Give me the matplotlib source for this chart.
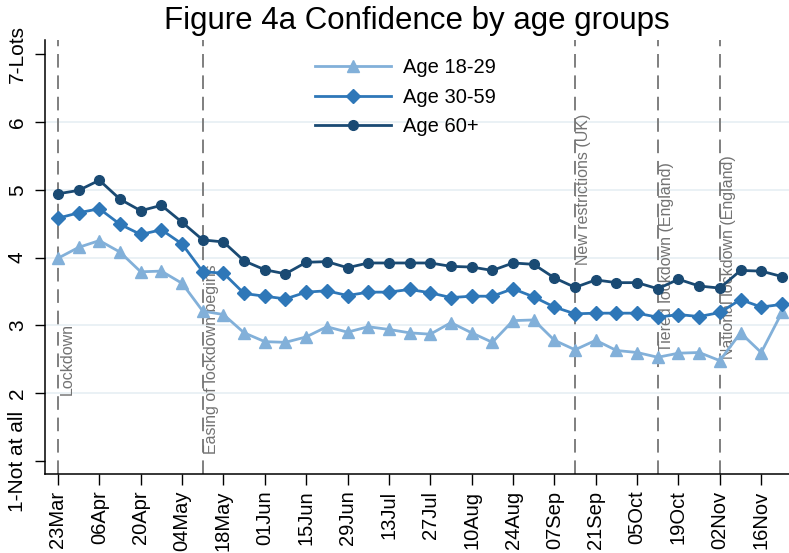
import matplotlib
matplotlib.use('Agg')
import matplotlib.pyplot as plt
import matplotlib.dates as mdates
import pandas as pd

plt.rcParams['font.family'] = ['Liberation Sans', 'DejaVu Sans']

# weekly survey waves
semanas = pd.date_range('2020-03-23', periods=36, freq='7D')

idade_18_29 = [3.99, 4.15, 4.25, 4.08, 3.79, 3.80, 3.62, 3.21, 3.16, 2.89, 2.76, 2.75,
               2.83, 2.98, 2.90, 2.98, 2.94, 2.89, 2.87, 3.04, 2.89, 2.75, 3.07, 3.08,
               2.78, 2.64, 2.78, 2.63, 2.60, 2.53, 2.59, 2.60, 2.48, 2.89, 2.60, 3.19]
idade_30_59 = [4.58, 4.66, 4.72, 4.49, 4.34, 4.41, 4.20, 3.79, 3.77, 3.47, 3.43, 3.39,
               3.49, 3.51, 3.44, 3.49, 3.49, 3.53, 3.48, 3.41, 3.43, 3.43, 3.54, 3.42,
               3.27, 3.17, 3.18, 3.18, 3.18, 3.12, 3.16, 3.13, 3.19, 3.38, 3.27, 3.31]
idade_60 = [4.94, 4.99, 5.14, 4.86, 4.69, 4.77, 4.52, 4.26, 4.23, 3.95, 3.82, 3.76,
            3.93, 3.94, 3.85, 3.92, 3.92, 3.92, 3.92, 3.87, 3.86, 3.81, 3.92, 3.90,
            3.70, 3.56, 3.67, 3.63, 3.63, 3.54, 3.68, 3.58, 3.55, 3.81, 3.80, 3.72]

eventos = ['2020-03-23', '2020-05-11', '2020-09-14', '2020-10-12', '2020-11-02']
eventos_txt = ['Lockdown', 'Easing of lockdown begins', 'New restrictions (UK)',
               'Tiered lockdown (England)', 'National lockdown (England)']
eventos_y = [2.5, 2.5, 5.0, 4.0, 4.0]

y_ticks = [1, 2, 3, 4, 5, 6, 7]
y_labels = ['1-Not at all', '2', '3', '4', '5', '6', '7-Lots']

# cores
cor_jovem = '#82b0d9'
cor_meio = '#2e77b8'
cor_velho = '#1a4a73'

fig = plt.figure(figsize=(7.89, 5.53), dpi=100)
ax = fig.add_axes([0.057, 0.143, 0.943, 0.785])

for y in [2, 3, 4, 5, 6]:
    ax.axhline(y, color='#e6eff4', linewidth=1.2, zorder=0)

for d, txt, yy in zip(eventos, eventos_txt, eventos_y):
    dt = pd.Timestamp(d)
    ax.axvline(dt, color='#7f7f7f', linewidth=1.4, linestyle=(0, (7, 4)), zorder=1)
    ax.annotate(txt, xy=(dt, yy), xytext=(1, 0), textcoords='offset points',
                rotation=90, ha='left', va='center', fontsize=11.5, color='#737373',
                zorder=2)

ax.plot(semanas, idade_18_29, color=cor_jovem, linewidth=2, marker='^', markersize=8,
        label='Age 18-29', zorder=3)
ax.plot(semanas, idade_30_59, color=cor_meio, linewidth=2, marker='D', markersize=7,
        label='Age 30-59', zorder=4)
ax.plot(semanas, idade_60, color=cor_velho, linewidth=2, marker='o', markersize=7,
        label='Age 60+', zorder=5)

ax.set_xlim(semanas[0] - pd.Timedelta(days=4.4), semanas[-1] + pd.Timedelta(days=2.4))
ax.set_ylim(0.81, 7.21)

ax.set_yticks(y_ticks)
ax.set_yticklabels(y_labels, rotation=90, va='center', fontsize=15)
ax.set_xticks(pd.date_range('2020-03-23', '2020-11-16', freq='14D'))
ax.xaxis.set_major_formatter(mdates.DateFormatter('%d%b'))
plt.setp(ax.get_xticklabels(), rotation=90, ha='center', va='top', fontsize=14.5)
ax.tick_params(axis='y', length=7, pad=6, width=1)
ax.tick_params(axis='x', length=8, pad=4, width=1)

for s in ['top', 'right']:
    ax.spines[s].set_visible(False)
for s in ['left', 'bottom']:
    ax.spines[s].set_linewidth(1.1)

fig.text(0.528, 0.962, 'Figure 4a Confidence by age groups', ha='center', va='center',
         fontsize=22.5)

ax.legend(loc='upper left', bbox_to_anchor=(0.376, 0.927), bbox_transform=fig.transFigure,
          frameon=False, fontsize=14.5, handlelength=3.8, labelspacing=0.52,
          handletextpad=0.6, numpoints=1)

fig.savefig('out.png', dpi=100)
